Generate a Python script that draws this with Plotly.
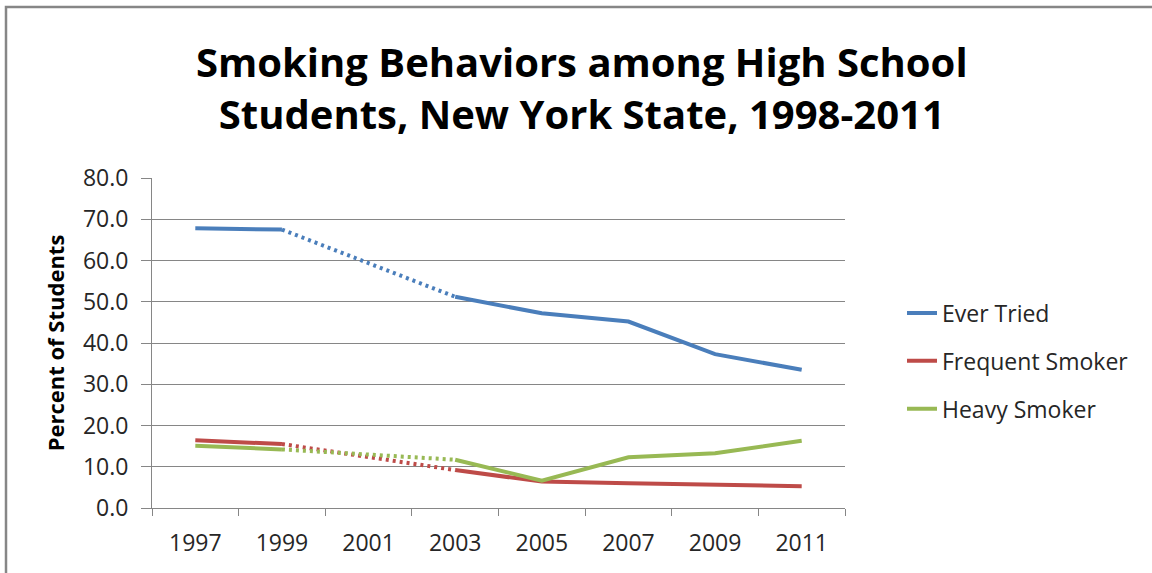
import plotly.graph_objects as go

years = ["1997", "1999", "2001", "2003", "2005", "2007", "2009", "2011"]
ever_tried = [67.8, 67.5, None, 51.2, 47.2, 45.2, 37.3, 33.5]
frequent_smoker = [16.4, 15.5, None, 9.2, 6.4, 6.0, 5.7, 5.3]
heavy_smoker = [15.1, 14.2, None, 11.7, 6.6, 12.3, 13.3, 16.3]
y_ticks = [0, 10, 20, 30, 40, 50, 60, 70, 80]

series = [
    ("Ever Tried", ever_tried, "#4A7EBB"),
    ("Frequent Smoker", frequent_smoker, "#BE4B48"),
    ("Heavy Smoker", heavy_smoker, "#98B954"),
]

FONT = "Open Sans"
fig = go.Figure()

# dotted connectors across the missing 2001 value
for name, vals, color in series:
    fig.add_trace(go.Scatter(
        x=[years[1], years[3]], y=[vals[1], vals[3]], mode="lines",
        line=dict(color=color, width=4, dash="3px,4px"),
        showlegend=False, hoverinfo="skip"))

for i, (name, vals, color) in enumerate(series):
    fig.add_trace(go.Scatter(
        x=years, y=vals, name=name, mode="lines", connectgaps=False,
        legendgroup=f"g{i}",
        line=dict(color=color, width=4)))

L, R, T, B = 152, 845, 178, 508
W, H = 1152, 573
fig.update_layout(
    width=W, height=H,
    margin=dict(l=L, r=W - R, t=T, b=H - B, autoexpand=False),
    paper_bgcolor="white", plot_bgcolor="white",
    font=dict(family=FONT, size=19, color="#262626"),
    title=dict(
        text="Smoking Behaviors among High School<br>Students, New York State, 1998-2011",
        x=0.505, xanchor="center", xref="container",
        y=1 - 77 / H, yanchor="middle", yref="container",
        font=dict(family=FONT, size=40, color="black", weight="bold")),
    showlegend=True,
    legend=dict(x=(902 - L) / (R - L), xanchor="left",
                y=(B - 361) / (B - T), yanchor="middle",
                tracegroupgap=15, font=dict(size=23, color="#262626"),
                bgcolor="rgba(0,0,0,0)"),
    shapes=[
        dict(type="rect", xref="paper", yref="paper",
             x0=(6 - L) / (R - L), x1=(1200 - L) / (R - L),
             y0=(B - 700) / (B - T), y1=(B - 7) / (B - T),
             line=dict(color="#868686", width=2.5), layer="below"),
    ],
)
fig.update_xaxes(
    type="category", categoryorder="array", categoryarray=years,
    range=[-0.5, len(years) - 0.5],
    showgrid=False, showline=True, linecolor="#868686", linewidth=1,
    ticks="outside", tickson="boundaries", ticklen=7, tickcolor="#868686",
    ticklabelstandoff=14,
    tickfont=dict(size=23, color="#262626"),
)
fig.update_yaxes(
    range=[0, 80], tickvals=y_ticks, tickformat=".1f",
    showgrid=True, gridcolor="#868686", gridwidth=1,
    showline=True, linecolor="#868686", linewidth=1,
    ticks="outside", ticklen=10, tickcolor="#868686",
    ticklabelstandoff=8,
    tickfont=dict(size=23, color="#262626"),
    zeroline=False,
    title=dict(text="<b>Percent of Students</b>", standoff=12,
               font=dict(size=22, color="black")),
)
fig.write_html("out.html", config={"displayModeBar": False},
               post_script="document.body.style.margin='0';")
